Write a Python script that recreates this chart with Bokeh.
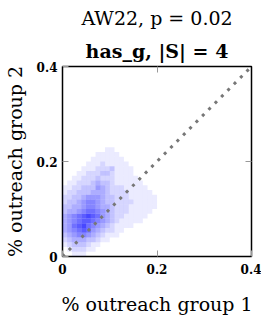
from bokeh.plotting import figure
from bokeh.models import Range1d, LinearAxis, FixedTicker, Title, ColumnDataSource
from bokeh.embed import file_html
from bokeh.resources import INLINE

# density grid (rows top y=0.23 -> bottom y=0.00, cols x=0.00..0.23, cell 0.01)
density_rows = [
    "000000000000000000000000",
    "000000000110000000000000",
    "000000011111000000000000",
    "000000111111100000000000",
    "000001112111110000000000",
    "000011122231111000000000",
    "000112223321111000000000",
    "001122232221111100000000",
    "011222343321111110000000",
    "112233354322211111000000",
    "122333444322221111100000",
    "223345554332221111110000",
    "233456654332222111110000",
    "334456654432221111110000",
    "344567765432221111100000",
    "456789875432211111000000",
    "456788765432111110000000",
    "457897654321111000000000",
    "456787543221100000000000",
    "345665432111000000000000",
    "234443321100000000000000",
    "123332110000000000000000",
    "012221100000000000000000",
    "001110000000000000000000",
]
cell = 0.01
diag_x = [0.0, 0.4]
diag_y = [0.0, 0.4]
ticks = [0, 0.2, 0.4]
title_line1 = "AW22, p = 0.02"
title_line2 = "has_g, |S| = 4"
xlabel = "% outreach group 1"
ylabel = "% outreach group 2"

xs, ys, alphas = [], [], []
n = len(density_rows)
for r, row in enumerate(density_rows):
    for c, ch in enumerate(row):
        v = int(ch)
        if v > 0:
            xs.append((c + 0.5) * cell)
            ys.append((n - 1 - r + 0.5) * cell)
            alphas.append(v / 9 * 0.72)

p = figure(frame_width=189, frame_height=190, output_backend="svg", toolbar_location=None,
           x_range=Range1d(0, 0.4), y_range=Range1d(0, 0.4),
           min_border_left=57, min_border_right=10, min_border_top=5, min_border_bottom=10)
p.grid.visible = False
p.outline_line_color = "black"
p.outline_line_width = 1.5
p.background_fill_color = "white"
p.border_fill_color = "white"

src = ColumnDataSource(dict(x=xs, y=ys, a=alphas))
p.rect(x="x", y="y", width=cell * 1.02, height=cell * 1.02, source=src,
       fill_color="#0000ff", fill_alpha="a", line_color=None)

p.line(diag_x, diag_y, line_color="#777777", line_width=3, line_dash="3 6")

for ax in [p.xaxis[0], p.yaxis[0]]:
    ax.ticker = FixedTicker(ticks=ticks)
    ax.major_label_overrides = {0: "0"}
    ax.axis_line_color = None
    ax.major_tick_in = 6
    ax.major_tick_out = 0
    ax.major_tick_line_color = "#999999"
    ax.minor_tick_line_color = None
    ax.major_label_text_font = "DejaVu Serif"
    ax.major_label_text_font_style = "bold"
    ax.major_label_text_font_size = "12px"
    ax.major_label_text_color = "black"
    ax.axis_label_text_font = "DejaVu Serif"
    ax.axis_label_text_font_style = "normal"
    ax.axis_label_text_font_size = "19px"
    ax.axis_label_text_color = "black"
p.xaxis.axis_label = xlabel
p.yaxis.axis_label = ylabel
p.xaxis.axis_label_standoff = 16
p.yaxis.axis_label_standoff = 8
p.xaxis.major_label_standoff = 7
p.yaxis.major_label_standoff = 5

for loc in ["above", "right"]:
    a = LinearAxis(ticker=FixedTicker(ticks=[0.2]), major_label_text_font_size="0px",
                   axis_line_color=None, major_tick_in=6, major_tick_out=0,
                   major_label_standoff=0,
                   major_tick_line_color="#999999", minor_tick_line_color=None)
    p.add_layout(a, loc)

p.add_layout(Title(text=title_line2, align="center", text_font="DejaVu Serif",
                   text_font_size="19px", text_font_style="bold", text_color="black",
                   standoff=10), "above")
p.add_layout(Title(text=title_line1, align="center", text_font="DejaVu Serif",
                   text_font_size="19px", text_font_style="normal", text_color="black",
                   standoff=8), "above")

open("out.html", "w").write(file_html(p, INLINE))
